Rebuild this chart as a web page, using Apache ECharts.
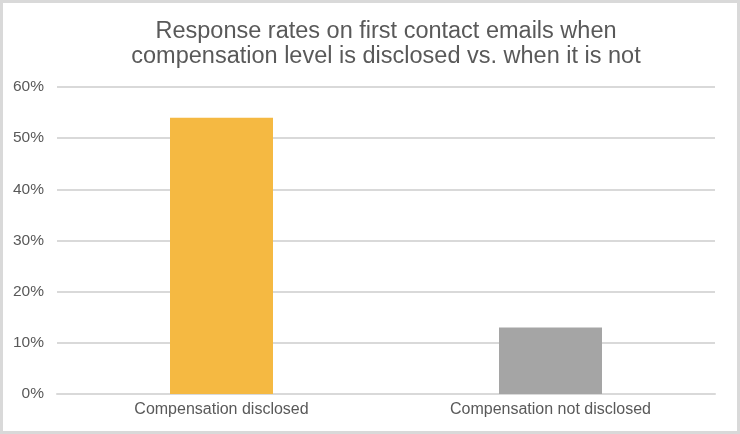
<!DOCTYPE html>
<html>
<head>
<meta charset="utf-8">
<script src="https://cdn.jsdelivr.net/npm/echarts@6/dist/echarts.min.js"></script>
<style>html,body{margin:0;padding:0;background:#fff;}#c{width:740px;height:434px;}</style>
</head>
<body>
<div id="c"></div>
<script>
var categories = ['Compensation disclosed', 'Compensation not disclosed'];
var values = [54, 13];
var barColors = ['#F5B942', '#A5A5A5'];
var titleText = 'Response rates on first contact emails when\ncompensation level is disclosed vs. when it is not';

var chart = echarts.init(document.getElementById('c'), null, {renderer: 'canvas'});
chart.setOption({
  animation: false,
  backgroundColor: '#ffffff',
  textStyle: {fontFamily: '"Liberation Sans", Arial, sans-serif'},
  title: {
    text: titleText,
    left: 381,
    textAlign: 'center',
    top: 14,
    textStyle: {fontSize: 23.5, fontWeight: 'normal', color: '#595959', lineHeight: 25, fontFamily: '"Liberation Sans", Arial, sans-serif'}
  },
  graphic: [{
    type: 'rect', silent: true,
    shape: {x: 1.5, y: 1.5, width: 737, height: 431},
    style: {fill: 'none', stroke: '#d9d9d9', lineWidth: 3}
  }],
  grid: {left: 57, right: 25, top: 87, bottom: 40},
  xAxis: {
    type: 'category',
    data: categories,
    axisLine: {show: true, lineStyle: {color: '#d9d9d9', width: 2}},
    axisTick: {show: false},
    axisLabel: {color: '#595959', fontSize: 16, margin: 8}
  },
  yAxis: {
    type: 'value',
    min: 0, max: 60, interval: 10,
    axisLine: {show: false},
    axisTick: {show: false},
    splitLine: {lineStyle: {color: '#d9d9d9', width: 2}},
    axisLabel: {color: '#595959', fontSize: 15.5, margin: 13, formatter: '{value}%'}
  },
  series: [{
    type: 'bar',
    barWidth: 103,
    data: values.map(function (v, i) { return {value: v, itemStyle: {color: barColors[i]}}; })
  }]
});
</script>
</body>
</html>
